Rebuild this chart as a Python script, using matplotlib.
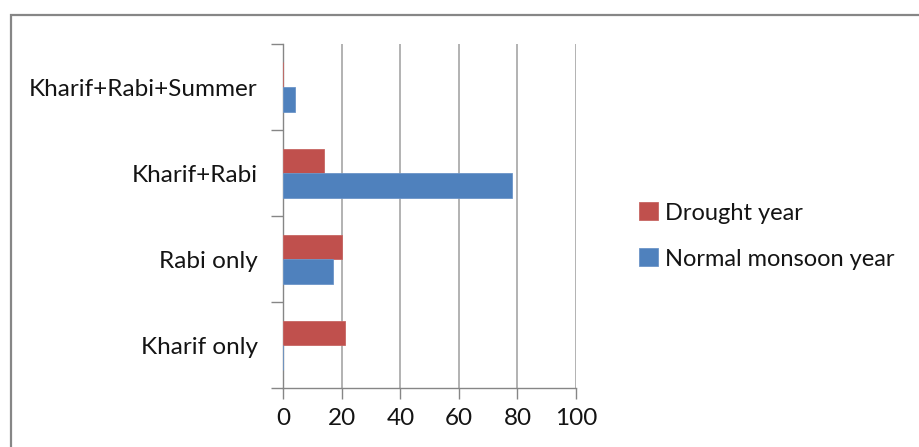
import matplotlib
matplotlib.use("Agg")
import matplotlib.pyplot as plt
import numpy as np
from matplotlib.patches import Rectangle

# cropping pattern share (%) by season
categories = ["Kharif only", "Rabi only", "Kharif+Rabi", "Kharif+Rabi+Summer"]
drought_year = [21, 20, 14, 0]
normal_year = [0, 17, 78, 4]
xticks = [0, 20, 40, 60, 80, 100]

red = "#C0504D"
blue = "#4F81BD"
grid_gray = "#A6A6A6"
text_col = "#141414"

plt.rcParams["font.family"] = ["Lato", "DejaVu Sans"]

fig = plt.figure(figsize=(9.19, 4.47), dpi=100)
ax = fig.add_axes([0.3083, 0.1313, 0.3185, 0.7703])

# outer chart frame
fig.patches.append(Rectangle((11 / 919, -0.1), 1.2, 1 - 15 / 447 + 0.1,
                             transform=fig.transFigure, fill=False,
                             edgecolor="#868686", linewidth=1.6))

y = np.arange(len(categories))
h = 1 / 3.5
ax.barh(y + h / 2, drought_year, height=h, color=red, edgecolor="#C76663",
        linewidth=0.6, label="Drought year", zorder=3)
ax.barh(y - h / 2, normal_year, height=h, color=blue, edgecolor="#6C95C8",
        linewidth=0.6, label="Normal monsoon year", zorder=3)

ax.set_xlim(0, 100)
ax.set_ylim(-0.5, len(categories) - 0.5)
ax.set_xticks(xticks)
ax.set_xticklabels([str(v) for v in xticks], fontsize=17.5, color=text_col)

# category labels sit between the boundary ticks
ax.set_yticks(np.arange(-0.5, len(categories)), minor=False)
ax.set_yticklabels([])
ax.set_yticks(y, minor=True)
ax.set_yticklabels(categories, minor=True, fontsize=17.5, color=text_col)
ax.tick_params(axis="y", which="minor", length=0, pad=18.5)
ax.tick_params(axis="y", which="major", length=9, width=1, color="#868686", direction="out")
ax.tick_params(axis="x", length=8, width=1, color="#868686", direction="out", pad=6)

ax.grid(axis="x", color=grid_gray, linewidth=1.2, zorder=0)
for side in ["top", "right"]:
    ax.spines[side].set_visible(False)
for side in ["left", "bottom"]:
    ax.spines[side].set_color("#868686")
    ax.spines[side].set_linewidth(1)

handles, labels = ax.get_legend_handles_labels()
fig.legend(handles, labels, loc="center left", bbox_to_anchor=(618 / 919, 1 - 236 / 447),
           frameon=False, fontsize=17, handlelength=0.8, handleheight=0.8,
           handletextpad=0.3, labelspacing=1.05, labelcolor=text_col)

fig.savefig("out.png", dpi=100)
